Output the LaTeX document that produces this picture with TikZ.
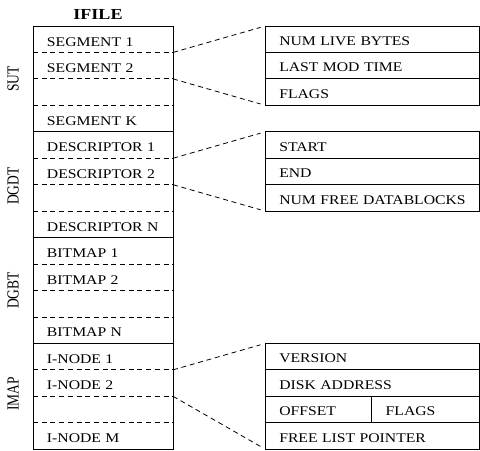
\documentclass[tikz,border=0pt]{standalone}
\usepackage{fontspec}
\setmainfont{Liberation Serif}[FakeStretch=1.18]
\newfontfamily\labfont{Liberation Serif}
\usetikzlibrary{positioning}
\begin{document}
\begin{tikzpicture}[x=1bp,y=-1bp,
  every node/.style={outer sep=0pt},
  lcell/.style={minimum width=140bp, minimum height=26.45bp, inner xsep=14bp, inner ysep=0pt,
    text width=112bp, align=left, text height=13.6bp, text depth=0pt,
    font=\fontsize{13.3bp}{16bp}\selectfont},
  rcell/.style={draw, line width=0.9bp, minimum width=214.5bp, minimum height=26.45bp, inner xsep=14bp, inner ysep=0pt,
    text width=186.5bp, align=left, text height=12.6bp, text depth=0pt,
    font=\fontsize{13.3bp}{16bp}\selectfont},
  grp/.style={draw, line width=0.9bp},
  sep/.style={line width=0.9bp, dash pattern=on 5bp off 3.7bp},
  conn/.style={line width=0.8bp, dash pattern=on 5bp off 3.7bp, shorten >=5bp},
  side/.style={inner sep=0pt, text depth=0pt}
]
\useasboundingbox (0,0) rectangle (480,451);
\def\h{26.45}
% left column
\node[lcell] (r1) at (103,{26+0.5*\h}) {SEGMENT 1};
\node[lcell, below=0pt of r1] (r2) {SEGMENT 2};
\node[lcell, below=0pt of r2] (r3) {};
\node[lcell, below=0pt of r3] (r4) {SEGMENT K};
\node[lcell, below=0pt of r4] (r5) {DESCRIPTOR 1};
\node[lcell, below=0pt of r5] (r6) {DESCRIPTOR 2};
\node[lcell, below=0pt of r6] (r7) {};
\node[lcell, below=0pt of r7] (r8) {DESCRIPTOR N};
\node[lcell, below=0pt of r8] (r9) {BITMAP 1};
\node[lcell, below=0pt of r9] (r10) {BITMAP 2};
\node[lcell, below=0pt of r10] (r11) {};
\node[lcell, below=0pt of r11] (r12) {BITMAP N};
\node[lcell, below=0pt of r12] (r13) {I-NODE 1};
\node[lcell, below=0pt of r13] (r14) {I-NODE 2};
\node[lcell, below=0pt of r14] (r15) {};
\node[lcell, below=0pt of r15] (r16) {I-NODE M};
% group outlines
\draw[grp] (r1.north west) rectangle (r4.south east);
\draw[grp] (r5.north west) rectangle (r8.south east);
\draw[grp] (r9.north west) rectangle (r12.south east);
\draw[grp] (r13.north west) rectangle (r16.south east);
% dashed separators
\foreach \i in {1,2,3,5,6,7,9,10,11,13,14,15}{
  \draw[sep] (r\i.south west) -- (r\i.south east);
}
% title and side labels
\node[anchor=base, inner sep=0pt, font=\fontsize{15.3bp}{18bp}\selectfont\bfseries] (title) at (98,19.3) {IFILE};
\node[side] (lsut) at (13,78.9) {\rotatebox{90}{\scalebox{1}[1.25]{\fontsize{13.5bp}{16bp}\labfont SUT}}};
\node[side] (ldgdt) at (13,186) {\rotatebox{90}{\scalebox{1}[1.25]{\fontsize{13.5bp}{16bp}\labfont DGDT}}};
\node[side] (ldgbt) at (13,290.5) {\rotatebox{90}{\scalebox{1}[1.25]{\fontsize{13.5bp}{16bp}\labfont DGBT}}};
\node[side] (limap) at (13,394) {\rotatebox{90}{\scalebox{1}[1.25]{\fontsize{13.5bp}{16bp}\labfont IMAP}}};
% right boxes
\coordinate (rx) at (372.55,0);
\node[rcell] (a1) at (rx |- r1) {NUM LIVE BYTES};
\node[rcell] (a2) at (rx |- r2) {LAST MOD TIME};
\node[rcell] (a3) at (rx |- r3) {FLAGS};
\node[rcell] (b1) at (rx |- r5) {START};
\node[rcell] (b2) at (rx |- r6) {END};
\node[rcell] (b3) at (rx |- r7) {NUM FREE DATABLOCKS};
\node[rcell] (c1) at (rx |- r13) {VERSION};
\node[rcell] (c2) at (rx |- r14) {DISK ADDRESS};
\coordinate (cxa) at (318.5,0);
\coordinate (cxb) at (425.75,0);
\node[rcell, minimum width=106.4bp, text width=78.4bp] (c3a) at (cxa |- r15) {OFFSET};
\node[rcell, minimum width=108.1bp, text width=80.1bp] (c3b) at (cxb |- r15) {FLAGS};
\node[rcell] (c4) at (rx |- r16) {FREE LIST POINTER};
% connectors
\draw[conn] (r1.south east) -- (a1.north west);
\draw[conn] (r2.south east) -- (a3.south west);
\draw[conn] (r5.south east) -- (b1.north west);
\draw[conn] (r6.south east) -- (b3.south west);
\draw[conn] (r13.south east) -- (c1.north west);
\draw[conn] (r14.south east) -- (c4.south west);
\end{tikzpicture}
\end{document}
